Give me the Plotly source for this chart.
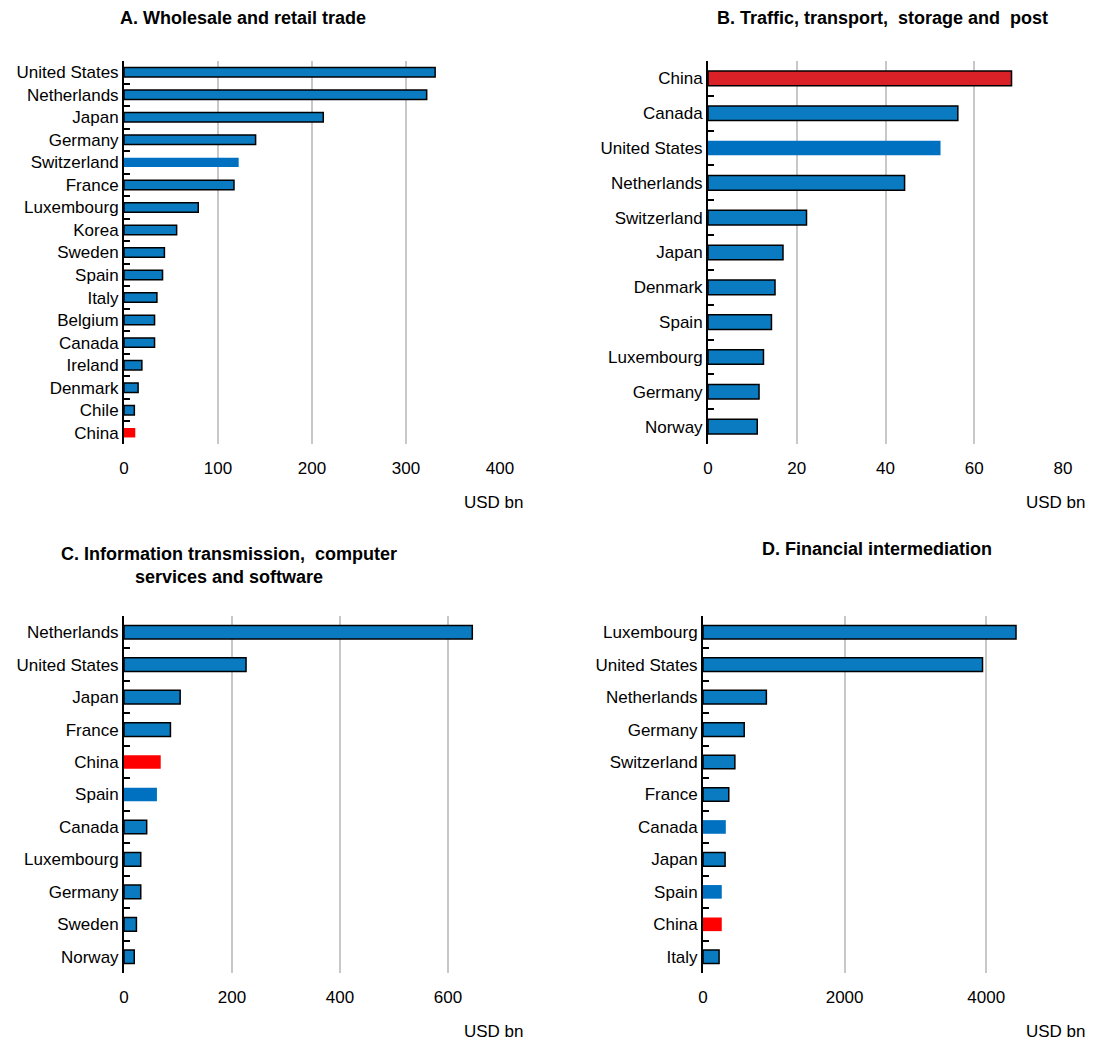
import plotly.graph_objects as go

BLUE = "#0A7BC1"
BLUE_NB = "#0070C0"
RED = "#FF0000"
RED_B = "#DA2128"

# Panel A
a_countries = ["United States", "Netherlands", "Japan", "Germany", "Switzerland", "France",
               "Luxembourg", "Korea", "Sweden", "Spain", "Italy", "Belgium", "Canada",
               "Ireland", "Denmark", "Chile", "China"]
a_values = [331, 322, 212, 140, 122, 117, 79, 56, 43, 41, 35, 32.5, 32.5, 19, 15, 11, 12]

# Panel B
b_countries = ["China", "Canada", "United States", "Netherlands", "Switzerland", "Japan",
               "Denmark", "Spain", "Luxembourg", "Germany", "Norway"]
b_values = [68.4, 56.3, 52.4, 44.3, 22.2, 16.9, 15.1, 14.3, 12.5, 11.5, 11.1]

# Panel C
c_countries = ["Netherlands", "United States", "Japan", "France", "China", "Spain",
               "Canada", "Luxembourg", "Germany", "Sweden", "Norway"]
c_values = [645, 226, 104, 86, 68, 61, 42, 31, 31, 23, 19]

# Panel D
d_countries = ["Luxembourg", "United States", "Netherlands", "Germany", "Switzerland", "France",
               "Canada", "Japan", "Spain", "China", "Italy"]
d_values = [4421, 3948, 895, 582, 450, 364, 322, 312, 265, 265, 227]

titles = ["A. Wholesale and retail trade",
          "B. Traffic, transport,  storage and  post",
          "C. Information transmission,  computer<br>services and software",
          "D. Financial intermediation"]

def styles(countries, panel):
    fills, widths = [], []
    for c in countries:
        if c == "China":
            if panel == "B":
                fills.append(RED_B); widths.append(1.5)
            else:
                fills.append(RED); widths.append(0)
        elif (panel == "A" and c == "Switzerland") or (panel == "B" and c == "United States") \
                or (panel == "C" and c == "Spain") or (panel == "D" and c in ("Canada", "Spain")):
            fills.append(BLUE_NB); widths.append(0)
        else:
            fills.append(BLUE); widths.append(1.5)
    return fills, widths

W, H = 1094, 1044
def px(x): return x / W
def py(y): return 1 - y / H

panels = [
    ("A", a_countries, a_values, [px(124), px(500)], [py(444), py(61)], [0, 400], 100),
    ("B", b_countries, b_values, [px(708), px(1063)], [py(444), py(61)], [0, 80], 20),
    ("C", c_countries, c_values, [px(124), px(502)], [py(973), py(616)], [0, 700], 200),
    ("D", d_countries, d_values, [px(703), px(1057)], [py(973), py(616)], [0, 5000], 2000),
]

FONT = "Liberation Sans, Arial"
fig = go.Figure()
layout = {}
for i, (p, cats, vals, xd, yd, xr, dt) in enumerate(panels):
    n = "" if i == 0 else str(i + 1)
    fills, widths = styles(cats, p)
    fig.add_trace(go.Bar(
        x=vals, y=cats, orientation="h",
        marker=dict(color=fills, line=dict(color="black", width=widths)),
        xaxis="x" + n, yaxis="y" + n, showlegend=False, hoverinfo="x+y"))
    layout["xaxis" + n] = dict(
        domain=xd, range=xr, dtick=dt, tick0=0, anchor="y" + n, automargin=False,
        showgrid=True, gridcolor="#C8C8C8", gridwidth=2,
        zeroline=False, showline=False, ticks="", ticklabelstandoff=12,
        tickfont=dict(family=FONT, size=17, color="black"), fixedrange=True)
    layout["yaxis" + n] = dict(
        domain=yd, anchor="x" + n, autorange="reversed", type="category", automargin=False,
        tickmode="array", tickvals=cats, ticktext=cats,
        showline=True, linecolor="black", linewidth=2,
        ticks="inside", tickson="boundaries", ticklen=6, tickwidth=2, tickcolor="black",
        showgrid=False, tickfont=dict(family=FONT, size=17, color="black"), fixedrange=True)

annotations = []
title_pos = [(243, 18), (882, 18), (229, 565), (877, 549)]
for t, (tx, ty) in zip(titles, title_pos):
    annotations.append(dict(text="<b>" + t + "</b>", x=px(tx), y=py(ty), xref="paper", yref="paper",
                            xanchor="center", yanchor="middle", showarrow=False,
                            font=dict(family=FONT, size=18, color="black")))
usd_pos = [(526, 503), (1088, 503), (526, 1031), (1088, 1031)]
for ux, uy in usd_pos:
    annotations.append(dict(text="USD bn", x=px(ux), y=py(uy), xref="paper", yref="paper",
                            xanchor="right", yanchor="middle", showarrow=False,
                            font=dict(family=FONT, size=17, color="black")))

fig.update_layout(**layout)
fig.update_layout(width=W, height=H, margin=dict(l=0, r=0, t=0, b=0),
                  paper_bgcolor="white", plot_bgcolor="white", bargap=0.58,
                  annotations=annotations, font=dict(family=FONT, color="black"))
fig.write_html("out.html", config={"displayModeBar": False},
               post_script="document.body.style.margin='0';document.body.style.overflow='hidden';")
